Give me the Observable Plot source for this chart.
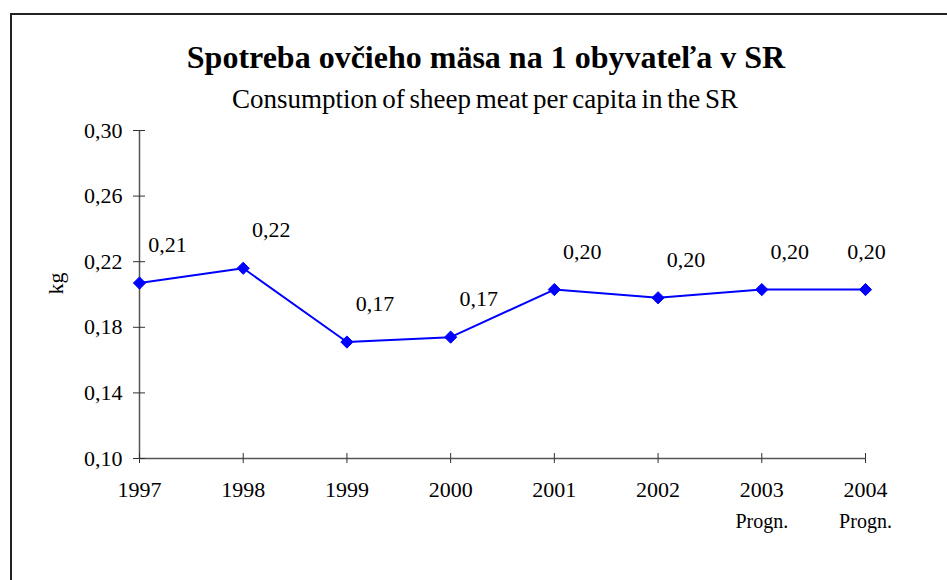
<!DOCTYPE html>
<html>
<head>
<meta charset="utf-8">
<script src="https://cdn.jsdelivr.net/npm/d3@7"></script>
<script src="https://cdn.jsdelivr.net/npm/@observablehq/plot@0.6"></script>
<style>
  html, body { margin: 0; padding: 0; background: #fff; }
  body { width: 947px; height: 580px; position: relative; overflow: hidden; font-family: "Liberation Serif", "Times New Roman", serif; }
  #frame { position: absolute; left: 10px; top: 13px; width: 1000px; height: 1000px; border-left: 2px solid #222; border-top: 2px solid #222; }
  #title { position: absolute; left: 0; width: 972px; top: 38px; text-align: center; font-weight: bold; font-size: 32px; line-height: 38px; color: #000; white-space: nowrap; }
  #subtitle { position: absolute; left: 0; width: 970px; top: 84px; text-align: center; font-size: 27px; line-height: 30px; color: #000; white-space: nowrap; word-spacing: -2px; }
  #chart { position: absolute; left: 0; top: 110px; }
  #chart g[aria-label$="tick label"] { font-size: 22px; }
</style>
</head>
<body>
<div id="frame"></div>
<div id="title">Spotreba ovčieho mäsa na 1 obyvateľa v SR</div>
<div id="subtitle">Consumption of sheep meat per capita in the SR</div>
<div id="chart"></div>
<script>
const years = [1997, 1998, 1999, 2000, 2001, 2002, 2003, 2004];
const values = [0.207, 0.216, 0.171, 0.174, 0.203, 0.198, 0.203, 0.203];
const notes = ["", "", "", "", "", "", "Progn.", "Progn."];
const yTicks = [0.10, 0.14, 0.18, 0.22, 0.26, 0.30];
const yLabel = "kg";

const comma = v => v.toFixed(2).replace(".", ",");
const data = years.map((y, i) => ({year: y, value: values[i], note: notes[i]}));
const n = data.length;

const plot = Plot.plot({
  width: 947,
  height: 470,
  marginTop: 20,
  marginBottom: 122,
  marginLeft: 139,
  marginRight: 82,
  style: {fontFamily: "'Liberation Serif', 'Times New Roman', serif", background: "transparent", color: "#000"},
  x: {domain: [years[0], years[years.length - 1]]},
  y: {domain: [yTicks[0], yTicks[yTicks.length - 1]]},
  marks: [
    Plot.ruleX([years[0]], {stroke: "#555", strokeWidth: 1.5}),
    Plot.ruleY([yTicks[0]], {stroke: "#555", strokeWidth: 1.5}),
    Plot.axisY({ticks: yTicks, tickFormat: comma, tickSize: 12, dx: 6, tickPadding: 11, stroke: "#333", fontSize: 22, label: null, fill: "#000"}),
    Plot.axisX({ticks: years, tickFormat: d => String(d), tickSize: 10, dy: -5, tickPadding: 18, stroke: "#333", fontSize: 22, label: null, fill: "#000"}),
    Plot.text(data, {x: "year", y: () => yTicks[0], text: "note", dy: 63, fontSize: 20, fill: "#000"}),
    Plot.text([yLabel], {frameAnchor: "left", text: d => d, rotate: -90, dx: -84, fontSize: 22, fill: "#000"}),
    Plot.line(data, {x: "year", y: "value", stroke: "#0000ff", strokeWidth: 2}),
    Plot.dot(data, {x: "year", y: "value", symbol: "diamond2", r: 5.5, fill: "#0000ff", stroke: "#0000ff", strokeWidth: 1}),
    Plot.text(data, {filter: (d, i) => i < n - 1, x: "year", y: "value", text: d => comma(d.value), dx: 28, dy: -38, fontSize: 22, fill: "#000"}),
    Plot.text(data, {filter: (d, i) => i === n - 1, x: "year", y: "value", text: d => comma(d.value), dx: 1, dy: -38, fontSize: 22, fill: "#000"})
  ]
});
document.getElementById("chart").appendChild(plot);
</script>
</body>
</html>
